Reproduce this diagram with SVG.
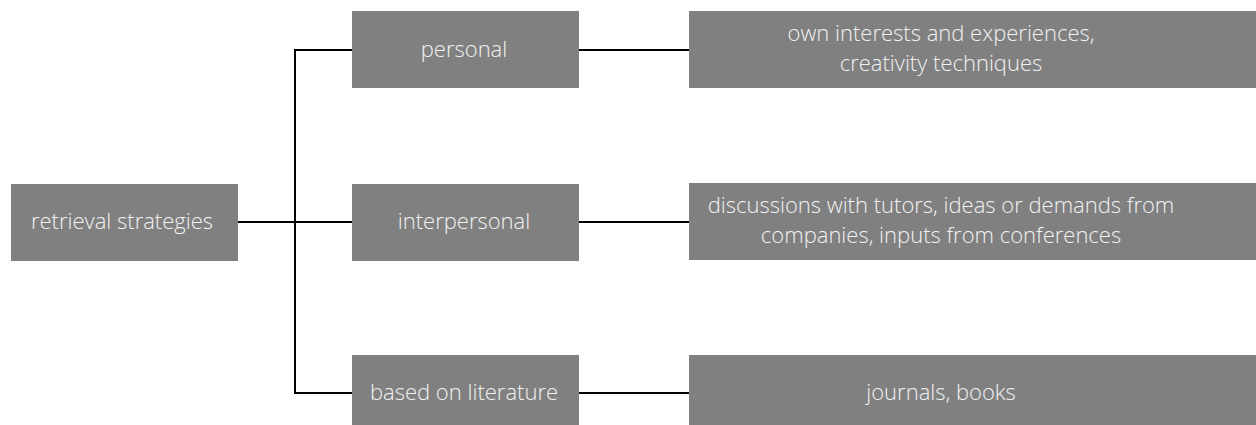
<svg xmlns="http://www.w3.org/2000/svg" width="1256" height="425" viewBox="0 0 1256 425">
<style>
.box{fill:#808080;}
.t{font-family:"Open Sans","Noto Sans",sans-serif;font-size:22px;font-weight:300;fill:#f2f2f2;text-anchor:middle;}
.c{stroke:#000;stroke-width:2;fill:none;}
</style>
<rect width="1256" height="425" fill="#fff"/>
<g id="connectors">
<line class="c" x1="238" y1="222" x2="352" y2="222"/>
<polyline class="c" points="352,50 295,50 295,393 352,393"/>
<line class="c" x1="579" y1="50" x2="689" y2="50"/>
<line class="c" x1="579" y1="222" x2="689" y2="222"/>
<line class="c" x1="579" y1="393" x2="689" y2="393"/>
</g>
<g id="root"><rect class="box" x="11" y="184" width="227" height="77"/><text class="t" x="122" y="229">retrieval strategies</text></g>
<g id="personal"><rect class="box" x="352" y="11" width="227" height="77"/><text class="t" x="464" y="57">personal</text></g>
<g id="interpersonal"><rect class="box" x="352" y="184" width="227" height="77"/><text class="t" x="464" y="229">interpersonal</text></g>
<g id="literature"><rect class="box" x="352" y="355" width="227" height="77"/><text class="t" x="464" y="400">based on literature</text></g>
<g id="personal-detail"><rect class="box" x="689" y="11" width="580" height="77"/><text class="t" x="941" y="41">own interests and experiences,</text><text class="t" x="941" y="71">creativity techniques</text></g>
<g id="interpersonal-detail"><rect class="box" x="689" y="183" width="580" height="77"/><text class="t" x="941" y="213">discussions with tutors, ideas or demands from</text><text class="t" x="941" y="243">companies, inputs from conferences</text></g>
<g id="literature-detail"><rect class="box" x="689" y="355" width="580" height="77"/><text class="t" x="941" y="400">journals, books</text></g>
</svg>
